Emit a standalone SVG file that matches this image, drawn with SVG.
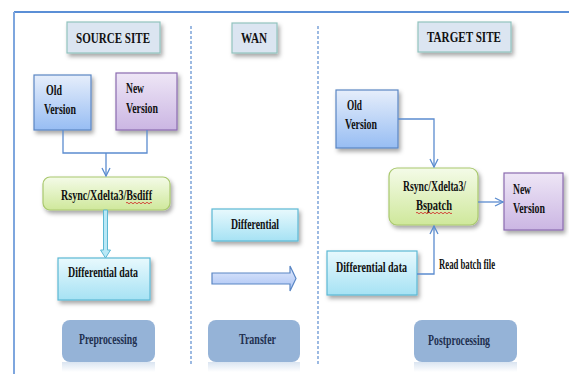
<svg xmlns="http://www.w3.org/2000/svg" width="569" height="374" viewBox="0 0 569 374">
<defs>
<style>
.t{font-family:"Liberation Serif","Times New Roman",serif;font-weight:bold;font-size:15px;fill:#111}
.ph{font-family:"Liberation Serif","Times New Roman",serif;font-weight:bold;font-size:15px;fill:#1f3050}
.hdr{fill:#dbe5f1;stroke:#92c3be;stroke-width:1.2}
.conn{fill:none;stroke:#5b8ccf;stroke-width:1.3}
.div{stroke:#5b8ccf;stroke-width:1.2;stroke-dasharray:3 2}
.phase{fill:#95b3d7}
</style>
<filter id="sh" x="-20%" y="-20%" width="150%" height="160%">
<feDropShadow dx="2" dy="3" stdDeviation="2" flood-color="#000" flood-opacity="0.35"/>
</filter>
<linearGradient id="gOld" x1="0" y1="0" x2="0" y2="1"><stop offset="0" stop-color="#e6eefb"/><stop offset="1" stop-color="#97bdf3"/></linearGradient>
<linearGradient id="gNew" x1="0" y1="0" x2="0" y2="1"><stop offset="0" stop-color="#eee6f6"/><stop offset="1" stop-color="#cbb6e3"/></linearGradient>
<linearGradient id="gRs" x1="0" y1="0" x2="0" y2="1"><stop offset="0" stop-color="#f4fbe8"/><stop offset="1" stop-color="#cfe89b"/></linearGradient>
<linearGradient id="gDf" x1="0" y1="0" x2="0" y2="1"><stop offset="0" stop-color="#e8f9fd"/><stop offset="1" stop-color="#a6e2f4"/></linearGradient>
<linearGradient id="gAr" x1="0" y1="0" x2="0" y2="1"><stop offset="0" stop-color="#e2eafc"/><stop offset="1" stop-color="#a8c2f4"/></linearGradient>
<linearGradient id="gRef" x1="0" y1="0" x2="0" y2="1"><stop offset="0" stop-color="#95b3d7" stop-opacity="0.35"/><stop offset="1" stop-color="#95b3d7" stop-opacity="0"/></linearGradient>
<marker id="v" viewBox="0 0 10 10" refX="9" refY="5" markerWidth="10" markerHeight="10" markerUnits="userSpaceOnUse" orient="auto">
<polyline points="1,1 9,5 1,9" fill="none" stroke="#5b8ccf" stroke-width="1.3"/>
</marker>
</defs>
<rect width="569" height="374" fill="#fff"/>
<g id="frame">
<line x1="14" y1="12" x2="569" y2="12" stroke="#5b8fd6" stroke-width="2"/>
<line x1="14" y1="12" x2="14" y2="374" stroke="#7ea6de" stroke-width="2"/>
<line class="div" x1="191" y1="26" x2="191" y2="366"/>
<line class="div" x1="318" y1="26" x2="318" y2="366"/>
</g>
<g id="source-site"><rect class="hdr" x="67" y="22" width="93" height="31" filter="url(#sh)"/><text class="t" x="76" y="43" textLength="74" lengthAdjust="spacingAndGlyphs" font-size="16">SOURCE SITE</text></g>
<g id="wan"><rect class="hdr" x="232" y="23" width="45" height="30" filter="url(#sh)"/><text class="t" x="241" y="43" textLength="26" lengthAdjust="spacingAndGlyphs" font-size="16">WAN</text></g>
<g id="target-site"><rect class="hdr" x="418" y="22" width="93" height="30" filter="url(#sh)"/><text class="t" x="427" y="42" textLength="74" lengthAdjust="spacingAndGlyphs" font-size="16">TARGET SITE</text></g>

<g id="src-old"><rect x="34" y="75" width="57" height="55" fill="url(#gOld)" stroke="#5a86c4" stroke-width="1.2" filter="url(#sh)"/><text class="t" x="46" y="95" textLength="16" lengthAdjust="spacingAndGlyphs">Old</text><text class="t" x="44" y="114" textLength="32" lengthAdjust="spacingAndGlyphs">Version</text></g>
<g id="src-new"><rect x="116" y="73" width="61" height="57" fill="url(#gNew)" stroke="#8a6bb0" stroke-width="1.2" filter="url(#sh)"/><text class="t" x="126" y="93" textLength="18" lengthAdjust="spacingAndGlyphs">New</text><text class="t" x="126" y="113" textLength="32" lengthAdjust="spacingAndGlyphs">Version</text></g>
<g id="src-rsync"><rect x="43" y="177" width="127" height="33" rx="7" fill="url(#gRs)" stroke="#a9c86e" stroke-width="1.2" filter="url(#sh)"/><text class="t" x="61" y="200" textLength="91" lengthAdjust="spacingAndGlyphs">Rsync/Xdelta3/Bsdiff</text><path d="M126 203 q1 -1.5 2 0 t2 0 t2 0 t2 0 t2 0 t2 0 t2 0 t2 0 t2 0 t2 0 t2 0 t2 0 t2 0" fill="none" stroke="#d02020" stroke-width="0.8"/></g>
<g id="src-diff"><rect x="58" y="258" width="92" height="42" fill="url(#gDf)" stroke="#5cb8d4" stroke-width="1.2" filter="url(#sh)"/><text class="t" x="68" y="277" textLength="70" lengthAdjust="spacingAndGlyphs">Differential data</text></g>
<g id="preprocessing"><rect x="62" y="362" width="93" height="10" fill="url(#gRef)"/><rect class="phase" x="62" y="320" width="93" height="42" rx="8"/><text class="ph" x="79" y="344" textLength="58" lengthAdjust="spacingAndGlyphs">Preprocessing</text></g>

<g id="wan-diff"><rect x="212" y="209" width="86" height="32" fill="url(#gDf)" stroke="#5cb8d4" stroke-width="1.2" filter="url(#sh)"/><text class="t" x="231" y="229" textLength="48" lengthAdjust="spacingAndGlyphs">Differential</text></g>
<g id="transfer"><rect x="208" y="362" width="92" height="10" fill="url(#gRef)"/><rect class="phase" x="208" y="320" width="92" height="42" rx="8"/><text class="ph" x="239" y="344" textLength="37" lengthAdjust="spacingAndGlyphs">Transfer</text></g>

<g id="tgt-old"><rect x="336" y="90" width="62" height="58" fill="url(#gOld)" stroke="#5a86c4" stroke-width="1.2" filter="url(#sh)"/><text class="t" x="347" y="110" textLength="15" lengthAdjust="spacingAndGlyphs">Old</text><text class="t" x="345" y="129" textLength="32" lengthAdjust="spacingAndGlyphs">Version</text></g>
<g id="tgt-rsync"><rect x="389" y="168" width="89" height="57" rx="8" fill="url(#gRs)" stroke="#a9c86e" stroke-width="1.2" filter="url(#sh)"/><text class="t" x="403" y="191" textLength="63" lengthAdjust="spacingAndGlyphs">Rsync/Xdelta3/</text><text class="t" x="416" y="210" textLength="36" lengthAdjust="spacingAndGlyphs">Bspatch</text><path d="M416 213 q1 -1.5 2 0 t2 0 t2 0 t2 0 t2 0 t2 0 t2 0 t2 0 t2 0 t2 0 t2 0 t2 0 t2 0 t2 0 t2 0 t2 0 t2 0 t2 0" fill="none" stroke="#d02020" stroke-width="0.8"/></g>
<g id="tgt-new"><rect x="504" y="173" width="59" height="57" fill="url(#gNew)" stroke="#8a6bb0" stroke-width="1.2" filter="url(#sh)"/><text class="t" x="513" y="194" textLength="18" lengthAdjust="spacingAndGlyphs">New</text><text class="t" x="513" y="213" textLength="32" lengthAdjust="spacingAndGlyphs">Version</text></g>
<g id="tgt-diff"><rect x="327" y="251" width="90" height="44" fill="url(#gDf)" stroke="#5cb8d4" stroke-width="1.2" filter="url(#sh)"/><text class="t" x="336" y="272" textLength="71" lengthAdjust="spacingAndGlyphs">Differential data</text></g>
<g id="postprocessing"><rect x="414" y="362" width="103" height="10" fill="url(#gRef)"/><rect class="phase" x="414" y="320" width="103" height="42" rx="8"/><text class="ph" x="428" y="345" textLength="62" lengthAdjust="spacingAndGlyphs">Postprocessing</text></g>

<g id="connectors">
<path class="conn" d="M63 130 V153 H147 V130"/>
<path class="conn" d="M106 153 V176" marker-end="url(#v)"/>
<path d="M103.5 210 V250 H100.5 L105.5 258 L110.5 250 H107.5 V210 Z" fill="#b9e8f6" stroke="#5cb8d4" stroke-width="1"/>
<path d="M212 273 H290 V266 L296 278.5 L290 291 V284 H212 Z" fill="url(#gAr)" stroke="#5a86c4" stroke-width="1.2"/>
<path class="conn" d="M398 119 H434 V167" marker-end="url(#v)"/>
<path class="conn" d="M417 274 H434 V226" marker-end="url(#v)"/>
<path class="conn" d="M478 202 H503" marker-end="url(#v)"/>
<text class="t" x="439" y="269" textLength="56" lengthAdjust="spacingAndGlyphs" font-size="14">Read batch file</text>
</g>
</svg>
